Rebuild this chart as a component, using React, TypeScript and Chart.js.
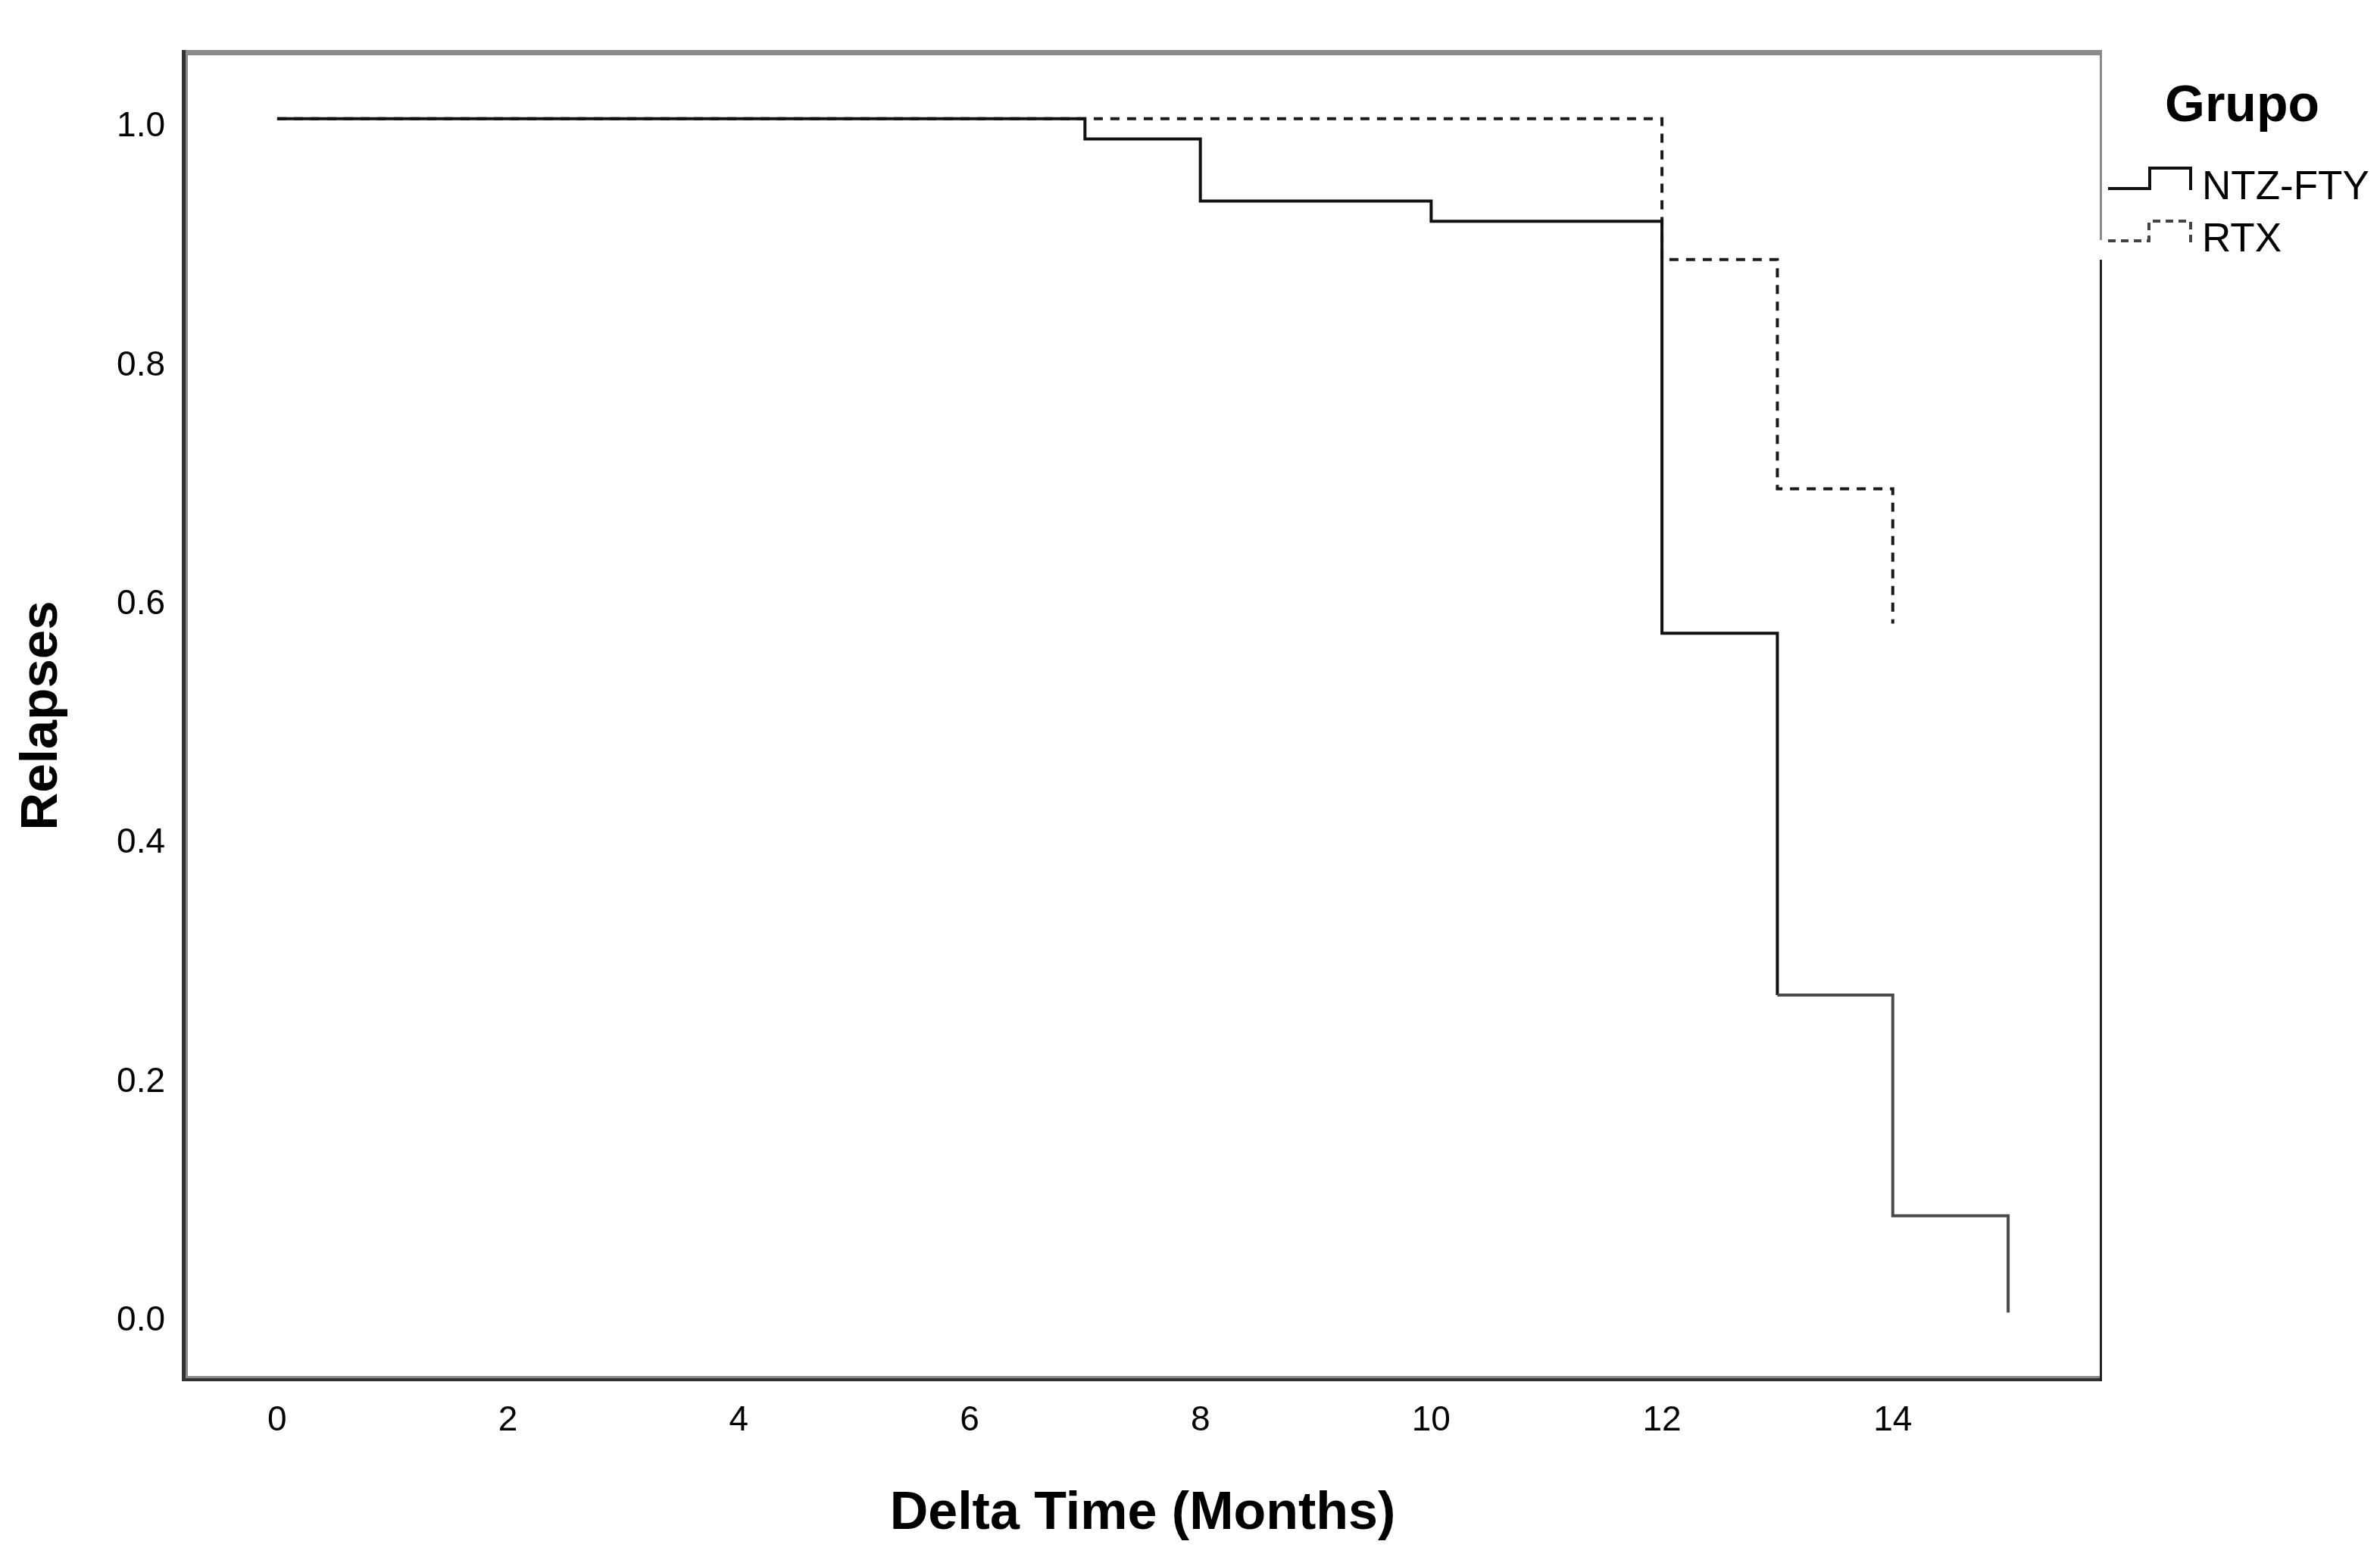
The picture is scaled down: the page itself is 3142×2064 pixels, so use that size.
import React, { useEffect, useRef } from "react";
import { Chart, registerables } from "chart.js";

Chart.register(...registerables);

// ---- data ----
const legendTitle = "Grupo";
const seriesNames = ["NTZ-FTY", "RTX"];
const ntzTimes = [0, 7, 8, 10, 12, 13, 14, 15];
const ntzSurvival = [1.0, 0.983, 0.931, 0.914, 0.569, 0.266, 0.081, 0.0];
const rtxTimes = [0, 12, 13, 14];
const rtxSurvival = [1.0, 0.882, 0.69, 0.577];
const xTicks = [0, 2, 4, 6, 8, 10, 12, 14];
const yTicks = [0, 0.2, 0.4, 0.6, 0.8, 1.0];
const xTitle = "Delta Time (Months)";
const yTitle = "Relapses";

const FONT = "'Liberation Sans', Arial, Helvetica, sans-serif";
const W = 3142;
const H = 2064;

const framePlugin = {
  id: "spssFrame",
  afterDraw(chart: any) {
    const { ctx, chartArea: a } = chart;
    ctx.save();
    const gray = "#8a8a8a";
    const dark = "#333333";
    // top
    ctx.fillStyle = gray;
    ctx.fillRect(a.left - 4, a.top - 4, a.right + 2 - (a.left - 4), 7);
    // left
    ctx.fillStyle = dark;
    ctx.fillRect(a.left - 4, a.top - 4, 5, a.bottom + 4 - (a.top - 4));
    ctx.fillStyle = gray;
    ctx.fillRect(a.left + 1, a.top + 3, 3, a.bottom - 3 - (a.top + 3));
    // bottom
    ctx.fillStyle = gray;
    ctx.fillRect(a.left + 1, a.bottom - 3, a.right + 2 - (a.left + 1), 3);
    ctx.fillStyle = dark;
    ctx.fillRect(a.left - 4, a.bottom, a.right + 2 - (a.left - 4), 4);
    // right
    ctx.fillStyle = gray;
    ctx.fillRect(a.right - 1, a.top - 4, 3, 251);
    ctx.fillStyle = "#222222";
    ctx.fillRect(a.right - 1, a.top + 273, 3, a.bottom + 4 - (a.top + 273));
    ctx.restore();
  },
};

const legendPlugin = {
  id: "stepLegend",
  afterDraw(chart: any) {
    const { ctx, chartArea: a } = chart;
    const names = chart.data.datasets.map((d: any) => d.label);
    ctx.save();
    // title
    ctx.fillStyle = "#000";
    ctx.font = `bold 68px ${FONT}`;
    ctx.textAlign = "center";
    ctx.textBaseline = "alphabetic";
    ctx.fillText(legendTitle, a.right + 187, 160);

    const gx = a.right + 10;
    // NTZ glyph (solid step)
    ctx.strokeStyle = "#111";
    ctx.lineWidth = 4;
    ctx.setLineDash([]);
    ctx.beginPath();
    ctx.moveTo(gx, 249);
    ctx.lineTo(gx + 55, 249);
    ctx.lineTo(gx + 55, 222);
    ctx.lineTo(gx + 109, 222);
    ctx.lineTo(gx + 109, 251);
    ctx.stroke();
    // RTX glyph (dashed step)
    ctx.strokeStyle = "#444";
    ctx.setLineDash([10, 7]);
    ctx.beginPath();
    ctx.moveTo(gx, 318);
    ctx.lineTo(gx + 54, 318);
    ctx.lineTo(gx + 54, 292);
    ctx.lineTo(gx + 109, 292);
    ctx.lineTo(gx + 109, 321);
    ctx.stroke();
    ctx.setLineDash([]);

    ctx.fillStyle = "#000";
    ctx.font = `53px ${FONT}`;
    ctx.textAlign = "left";
    ctx.fillText(names[0], a.right + 134, 263);
    ctx.fillText(names[1], a.right + 134, 332);
    ctx.restore();
  },
};

export default function App() {
  const canvasRef = useRef<HTMLCanvasElement | null>(null);

  useEffect(() => {
    const canvas = canvasRef.current;
    if (!canvas) return;
    const ntzData = ntzTimes.map((t, i) => ({ x: t, y: ntzSurvival[i] }));
    const rtxData = rtxTimes.map((t, i) => ({ x: t, y: rtxSurvival[i] }));

    const chart = new Chart(canvas, {
      type: "line",
      data: {
        datasets: [
          {
            label: seriesNames[0],
            data: ntzData,
            borderColor: "#111111",
            borderWidth: 4,
            pointRadius: 0,
            stepped: "before",
            fill: false,
            segment: {
              borderColor: (c: any) => (c.p0.parsed.x >= 13 ? "#4a4a4a" : "#111111"),
            },
          },
          {
            label: seriesNames[1],
            data: rtxData,
            borderColor: "#1a1a1a",
            borderWidth: 4,
            borderDash: [12, 10],
            pointRadius: 0,
            stepped: "before",
            fill: false,
          },
        ],
      },
      options: {
        responsive: false,
        animation: false,
        events: [],
        layout: { padding: { left: 0, top: 70, right: W - 2773, bottom: 0 } },
        plugins: {
          legend: { display: false },
          tooltip: { enabled: false },
          title: { display: false },
        },
        scales: {
          x: {
            type: "linear",
            min: -0.8,
            max: 15.8,
            grid: { display: false, drawTicks: false },
            border: { display: false },
            afterFit: (s: any) => {
              s.height = H - 1820;
            },
            afterBuildTicks: (s: any) => {
              s.ticks = xTicks.map((v) => ({ value: v }));
            },
            ticks: {
              color: "#000",
              padding: 29,
              maxRotation: 0,
              autoSkip: false,
              font: { family: FONT, size: 46 },
              callback: (v: any) => String(v),
            },
            title: {
              display: true,
              text: xTitle,
              color: "#000",
              font: { family: FONT, size: 70, weight: "bold" },
              padding: { top: 0, bottom: 22 },
            },
          },
          y: {
            type: "linear",
            min: -0.055,
            max: 1.055,
            grid: { display: false, drawTicks: false },
            border: { display: false },
            afterFit: (s: any) => {
              s.width = 244;
            },
            afterBuildTicks: (s: any) => {
              s.ticks = yTicks.map((v) => ({ value: v }));
            },
            ticks: {
              color: "#000",
              padding: 26,
              labelOffset: 11,
              autoSkip: false,
              font: { family: FONT, size: 46 },
              callback: (v: any) => Number(v).toFixed(1),
            },
            title: {
              display: true,
              text: yTitle,
              color: "#000",
              font: { family: FONT, size: 69, weight: "bold" },
              padding: { top: 15, bottom: 0 },
            },
          },
        },
      },
      plugins: [framePlugin, legendPlugin],
    } as any);

    return () => {
      chart.destroy();
    };
  }, []);

  return (
    <div
      style={{
        position: "fixed",
        left: 0,
        top: 0,
        width: W,
        height: H,
        background: "#fff",
      }}
    >
      <canvas ref={canvasRef} width={W} height={H} style={{ display: "block" }} />
    </div>
  );
}
